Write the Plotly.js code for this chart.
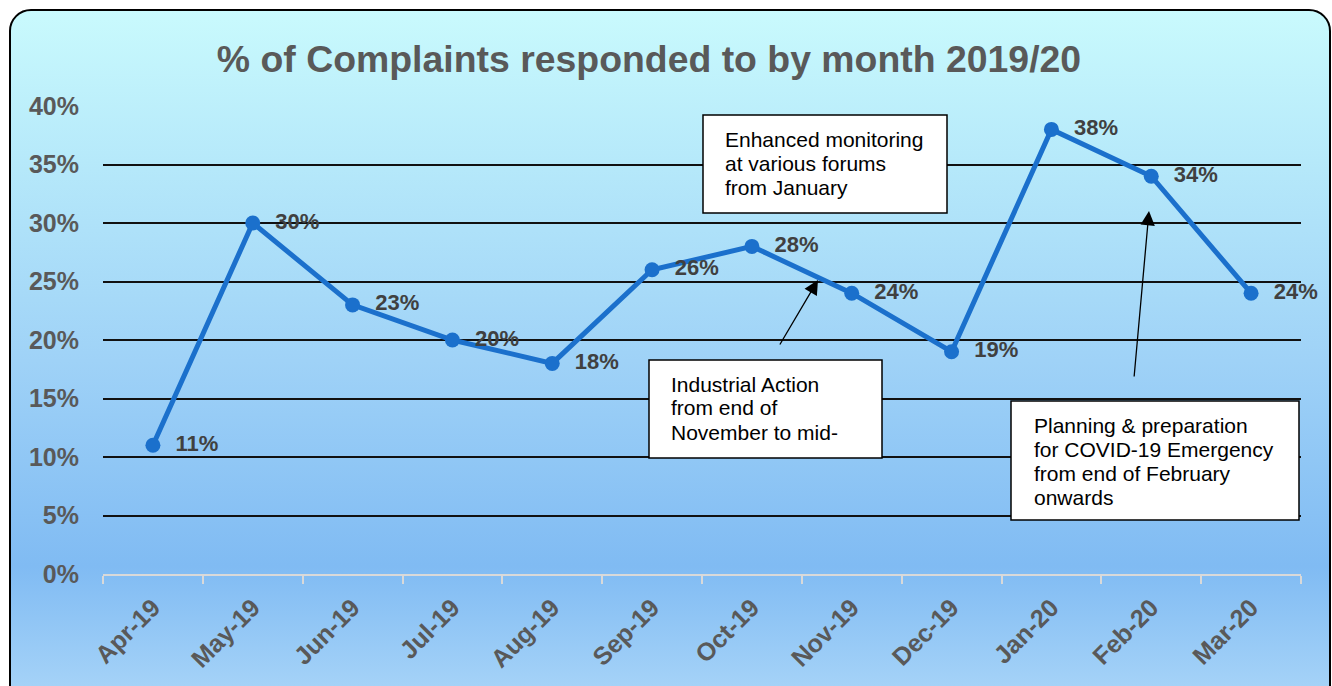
<!DOCTYPE html>
<html>
<head>
<meta charset="utf-8">
<script src="https://cdn.plot.ly/plotly-3.0.1.min.js"></script>
<style>
  html, body { margin: 0; padding: 0; background: #ffffff; width: 1332px; height: 686px; overflow: hidden; }
  #frame {
    position: absolute; left: 9px; top: 9px; width: 1318px; height: 700px;
    border: 2px solid #000; border-radius: 22px;
    background: linear-gradient(to bottom, #c9fafd 0px, #b6e9fa 150px, #9fd2f7 350px, #80bbf3 555px, #a9d5f8 690px);
  }
  #chart { position: absolute; left: 0; top: 0; width: 1332px; height: 686px; }
</style>
</head>
<body>
<div id="frame"></div>
<div id="chart"></div>
<script>
const months = ['Apr-19','May-19','Jun-19','Jul-19','Aug-19','Sep-19','Oct-19','Nov-19','Dec-19','Jan-20','Feb-20','Mar-20'];
const pctResponded = [11, 30, 23, 20, 18, 26, 28, 24, 19, 38, 34, 24];
const yTickVals = [0, 5, 10, 15, 20, 25, 30, 35, 40];
const yTickText = ['0%', '5%', '10%', '15%', '20%', '25%', '30%', '35%', '40%'];
const titleText = '% of Complaints responded to by month 2019/20';
const noteEnhanced = ['Enhanced monitoring', 'at various forums', 'from January'];
const noteIndustrial = ['Industrial Action', 'from end of', 'November to mid-'];
const noteCovid = ['Planning & preparation', 'for COVID-19 Emergency', 'from end of February', 'onwards'];

const FONT = 'Liberation Sans, Arial, sans-serif';
const L = 103, R = 1301, T = 106, B = 574;
const px = x => (x - L) / (R - L);
const py = y => (B - y) / (B - T);

const trace = {
  type: 'scatter', mode: 'lines+markers+text',
  x: months, y: pctResponded,
  text: pctResponded.map(v => '  ' + v + '%'),
  textposition: 'middle right',
  textfont: { family: FONT, size: 22, color: '#404040', weight: 'bold' },
  line: { color: '#1b70cc', width: 5 },
  marker: { color: '#1b70cc', size: 15 },
  cliponaxis: false, hoverinfo: 'skip'
};

const shapes = [], annotations = [];
function noteBox(lines, x0, y0, x1, y1, textX, firstY, step) {
  shapes.push({ type: 'rect', xref: 'paper', yref: 'paper', x0: px(x0), x1: px(x1), y0: py(y1), y1: py(y0),
    fillcolor: '#ffffff', line: { color: '#000000', width: 1.5 }, layer: 'above' });
  lines.forEach((t, i) => annotations.push({
    xref: 'paper', yref: 'paper', x: px(textX), y: py(firstY + i * step), xanchor: 'left', yanchor: 'middle',
    text: t, showarrow: false, font: { family: FONT, size: 21, color: '#000000' }
  }));
}
noteBox(noteEnhanced, 703, 115, 947, 213, 723, 139, 24);
noteBox(noteIndustrial, 649, 360, 882, 458, 669, 384, 24);
noteBox(noteCovid, 1011, 401, 1299, 520, 1032, 425, 24);

function arrow(tx, ty, sx, sy) {
  annotations.push({ xref: 'paper', yref: 'paper', x: px(tx), y: py(ty), ax: sx - tx, ay: sy - ty,
    text: '', showarrow: true, arrowhead: 2, arrowsize: 2.2, arrowwidth: 1.3, arrowcolor: '#000000', standoff: 0 });
}
arrow(818, 280, 779, 346);
arrow(1149, 211, 1134, 378);

const layout = {
  width: 1332, height: 686,
  paper_bgcolor: 'rgba(0,0,0,0)', plot_bgcolor: 'rgba(0,0,0,0)',
  margin: { l: L, r: 1332 - R, t: T, b: 686 - B, pad: 0 },
  showlegend: false,
  title: { text: titleText, x: 649 / 1332, xanchor: 'center', y: 1 - 59 / 686, yanchor: 'middle',
    font: { family: FONT, size: 37.4, color: '#595959', weight: 'bold' } },
  xaxis: {
    type: 'category', tickson: 'boundaries', showgrid: false, zeroline: false,
    showline: true, linecolor: '#d9d9d9', linewidth: 2,
    ticks: 'outside', ticklen: 8, tickwidth: 2, tickcolor: '#d9d9d9',
    tickangle: -45, ticklabelstandoff: 7,
    tickfont: { family: FONT, size: 25, color: '#595959', weight: 'bold' },
    range: [-0.5, 11.5], fixedrange: true
  },
  yaxis: {
    range: [0, 40], tickvals: yTickVals, ticktext: yTickText,
    showgrid: true, gridcolor: '#111111', gridwidth: 2, zeroline: false, showline: false,
    ticks: '', ticklabelstandoff: 23,
    tickfont: { family: FONT, size: 25, color: '#595959', weight: 'bold' }, fixedrange: true
  },
  shapes: shapes, annotations: annotations
};

Plotly.newPlot('chart', [trace], layout, { staticPlot: true, displayModeBar: false });
</script>
</body>
</html>
